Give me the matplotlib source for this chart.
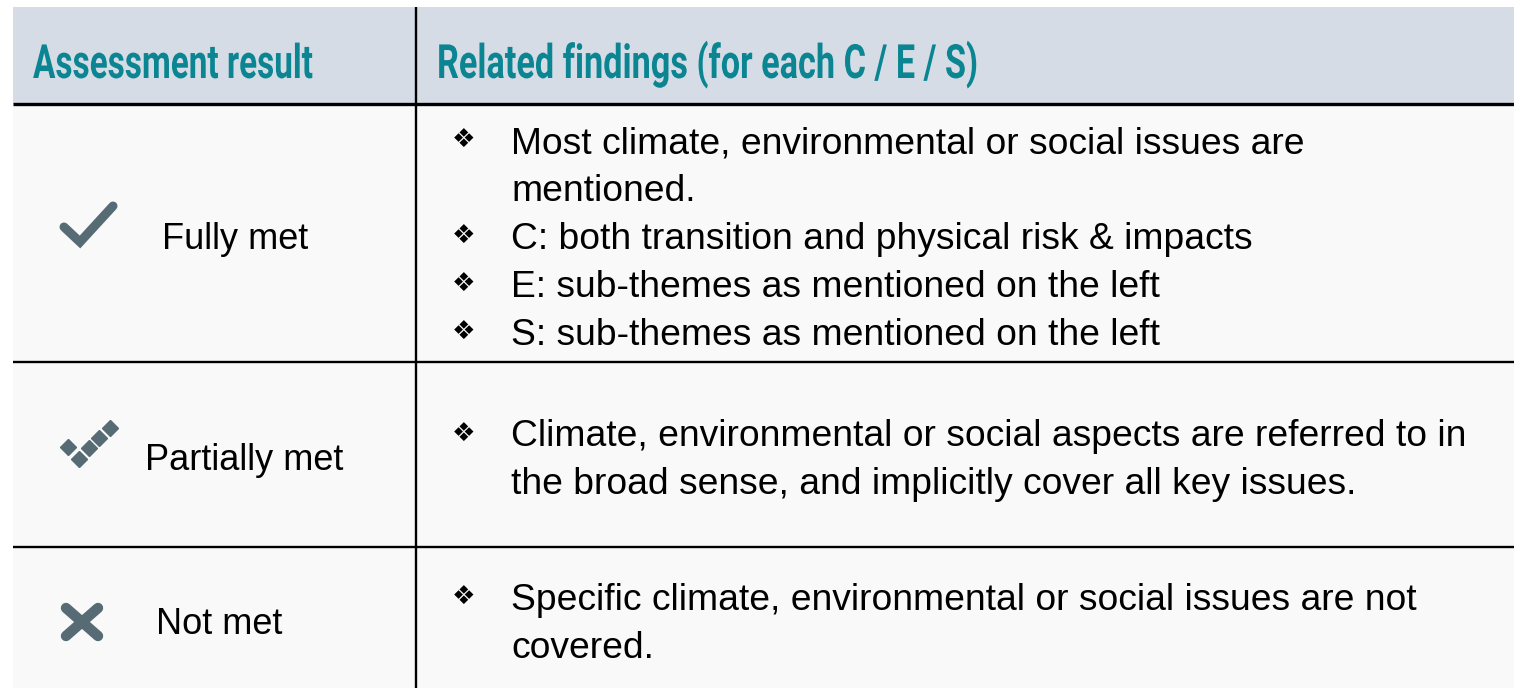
import matplotlib
matplotlib.use("Agg")
import matplotlib.pyplot as plt
from matplotlib.patches import Rectangle
from matplotlib.patheffects import AbstractPathEffect
from matplotlib.transforms import Affine2D

# === table content ===
headers = ["Assessment result", "Related findings (for each C / E / S)"]
results = ["Fully met", "Partially met", "Not met"]
icons = ["check", "dotted", "cross"]
findings = [
    [["Most climate, environmental or social issues are", "mentioned."],
     ["C: both transition and physical risk & impacts"],
     ["E: sub-themes as mentioned on the left"],
     ["S: sub-themes as mentioned on the left"]],
    [["Climate, environmental or social aspects are referred to in",
      "the broad sense, and implicitly cover all key issues."]],
    [["Specific climate, environmental or social issues are not",
      "covered."]],
]

# === layout (pixel units) ===
W, H = 1514, 688
left, top, col_x = 13, 7, 416
header_bottom = 104
row_edges = [header_bottom, 362, 547, H]
header_x = [33, 437]
header_squeeze = [0.705, 0.725]
label_x = [162, 145, 156]
icon_center = [(87, 224), (89, 438), (82, 622)]
bullet_x, text_x = 464, 511
line_gap = 48

header_bg = "#d5dce6"
body_bg = "#f9f9f9"
teal = "#0a8591"
icon_col = "#566b73"
body_font = ["Liberation Sans", "DejaVu Sans"]


class Squeeze(AbstractPathEffect):
    """Condense glyphs horizontally (no condensed face is installed)."""

    def __init__(self, sx):
        super().__init__()
        self.sx = sx

    def draw_path(self, renderer, gc, tpath, affine, rgbFace=None):
        renderer.draw_path(gc, tpath, Affine2D().scale(self.sx, 1) + affine,
                           rgbFace)


fig = plt.figure(figsize=(W / 100, H / 100), dpi=100)
ax = fig.add_axes([0, 0, 1, 1])
ax.set_xlim(0, W)
ax.set_ylim(H, 0)
ax.axis("off")

# backgrounds
ax.add_patch(Rectangle((left, top), W - left, header_bottom - top,
                       facecolor=header_bg, edgecolor="none"))
ax.add_patch(Rectangle((left, header_bottom), W - left, H - header_bottom,
                       facecolor=body_bg, edgecolor="none"))

# grid lines
ax.plot([left, W], [header_bottom, header_bottom], color="black", lw=2.4,
        solid_capstyle="butt")
for y in row_edges[1:-1]:
    ax.plot([left, W], [y, y], color="black", lw=1.7, solid_capstyle="butt")
ax.plot([col_x, col_x], [top, H], color="black", lw=1.7, solid_capstyle="butt")

# header text
for x, h, sx in zip(header_x, headers, header_squeeze):
    ax.text(x, 78, h, fontsize=34, fontweight="bold",
            family=["Roboto", "DejaVu Sans"], color=teal,
            ha="left", va="baseline", path_effects=[Squeeze(sx)])

# icon shapes in local units around the icon centre
check_shape = ([-23, -7, 26], [3, 18, -18])
dotted_pts = ([-21, -10, 0, 10, 21], [9, 21, 10, 0, -10])
cross_arms = [([-16, 16], [-14, 14]), ([16, -16], [-14, 14])]


def draw_icon(kind, cx, cy):
    if kind == "check":
        ax.plot([cx + v for v in check_shape[0]], [cy + v for v in check_shape[1]],
                color=icon_col, lw=6.5, solid_capstyle="round",
                solid_joinstyle="miter")
    elif kind == "dotted":
        ax.plot([cx + v for v in dotted_pts[0]], [cy + v for v in dotted_pts[1]],
                ls="none", marker="D", ms=8, color=icon_col, mec=icon_col)
    else:
        for xs, ys in cross_arms:
            ax.plot([cx + v for v in xs], [cy + v for v in ys],
                    color=icon_col, lw=7.5, solid_capstyle="round")


for i, (label, kind, items) in enumerate(zip(results, icons, findings)):
    r0, r1 = row_edges[i], row_edges[i + 1]
    mid = (r0 + r1) / 2 + 3
    draw_icon(kind, *icon_center[i])
    ax.text(label_x[i], mid + 13, label, fontsize=26, family=body_font,
            color="black", ha="left", va="baseline")

    lines = []
    for item in items:
        for k, ln in enumerate(item):
            lines.append((k == 0, ln))
    n = len(lines)
    for j, (is_first, ln) in enumerate(lines):
        yc = mid + (j - (n - 1) / 2) * line_gap
        if is_first:
            ax.text(bullet_x, yc, "\u2756", fontsize=19, family="DejaVu Sans",
                    color="black", ha="center", va="center")
        ax.text(text_x, yc + 13, ln, fontsize=26.8, family=body_font,
                color="black", ha="left", va="baseline")

fig.savefig("out.png", dpi=100, facecolor="white")
